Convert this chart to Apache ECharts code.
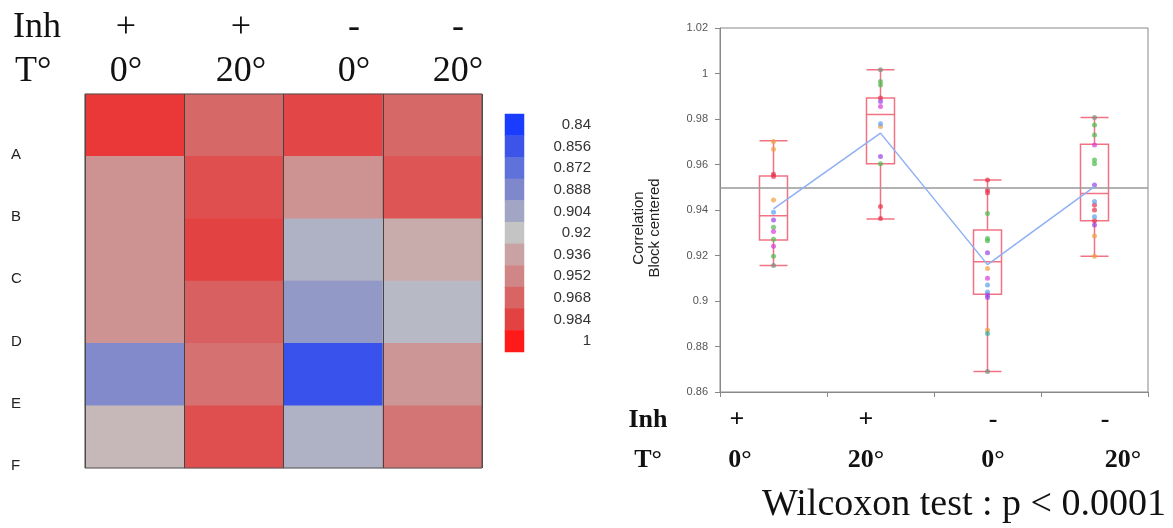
<!DOCTYPE html>
<html><head><meta charset="utf-8">
<script src="https://cdn.jsdelivr.net/npm/echarts@6/dist/echarts.min.js"></script>
<style>html,body{margin:0;padding:0;background:#fff}#c{width:1173px;height:528px}</style>
</head><body><div id="c"></div>
<script>
// ---- data ----
const conditions = ['Inh+ 0°', 'Inh+ 20°', 'Inh- 0°', 'Inh- 20°'];
const inhLabels = ['+', '+', '-', '-'];
const tempLabels = ['0°', '20°', '0°', '20°'];
const rowLabels = ['A', 'B', 'C', 'D', 'E', 'F'];
const heatA = [0.988, 0.966, 0.982, 0.966];
const heatB = [0.945, 0.978, 0.945, 0.975];
const heatC = [0.945, 0.984, 0.910, 0.932];
const heatD = [0.945, 0.970, 0.897, 0.914];
const heatE = [0.889, 0.962, 0.854, 0.943];
const heatF = [0.926, 0.978, 0.910, 0.960];
const scaleTicks = [0.84, 0.856, 0.872, 0.888, 0.904, 0.92, 0.936, 0.952, 0.968, 0.984, 1];
const scaleTickLabels = ['0.84', '0.856', '0.872', '0.888', '0.904', '0.92', '0.936', '0.952', '0.968', '0.984', '1'];
// boxplot: [min, Q1, median, Q3, max]
const boxInhPlus0 = [0.9156, 0.9268, 0.9375, 0.9550, 0.9704];
const boxInhPlus20 = [0.9360, 0.9603, 0.9820, 0.9892, 1.0017];
const boxInhMinus0 = [0.8690, 0.9030, 0.9172, 0.9312, 0.9532];
const boxInhMinus20 = [0.9197, 0.9353, 0.9473, 0.9689, 0.9807];
const meanValues = [0.9405, 0.9738, 0.9160, 0.9503];
const referenceLevel = 0.9454;
const yTicks = { min: 0.86, max: 1.02, step: 0.02 };
// individual points per condition, grouped by colour
const dotsGray    = [[0.9156], [1.0017], [0.8690], [0.9807]];
const dotsGreen   = [[0.9324, 0.9271, 0.9197], [0.9965, 0.9950, 0.9603], [0.9385, 0.9275, 0.9265], [0.9774, 0.9730, 0.9620, 0.9603]];
const dotsOrange  = [[0.9701, 0.9667, 0.9444], [0.9767], [0.9143, 0.8872], [0.9286, 0.9197]];
const dotsRed     = [[0.9557, 0.9547], [0.9892, 0.9415, 0.9363], [0.9532, 0.9488, 0.9476], [0.9422, 0.9400, 0.9353]];
const dotsBlue    = [[0.9390], [0.9779], [0.9070, 0.9040], [0.9437, 0.9370]];
const dotsPurple  = [[0.9356], [0.9877, 0.9635], [0.9212, 0.9026, 0.9015], [0.9510, 0.9334]];
const dotsMagenta = [[0.9305, 0.9241], [0.9855], [0.9100], [0.9686]];
const dotsTeal    = [[], [], [0.8857], []];

// ---- styles ----
const scaleColors = ['#1a3cff', '#3c55e8', '#5f72dc', '#8088cc', '#a2a6c4', '#c4c4c4',
                     '#c9a3a3', '#d08686', '#d86464', '#e34242', '#ff1a1a'];
const dotGroups = [
  [dotsGray, '#7c8c7c'], [dotsGreen, '#4cba4c'], [dotsOrange, '#f0a040'], [dotsRed, '#e8304c'],
  [dotsBlue, '#5aa0f0'], [dotsPurple, '#9a40e8'], [dotsMagenta, '#d83ad8'], [dotsTeal, '#30b0a0']
];

const heatRows = [heatA, heatB, heatC, heatD, heatE, heatF];
const heatData = [];
heatRows.forEach((r, yi) => r.forEach((v, xi) => heatData.push([xi, yi, v])));
const scaleData = scaleTicks.map((v, i) => [0, i, v]);

const serif = '"Liberation Serif", "DejaVu Serif", serif';
const sans = 'Liberation Sans, Arial, sans-serif';

const graphics = [];
function txt(x, y, s, opt) {
  graphics.push({ type: 'text', x: x, y: y, style: Object.assign({ text: s, fill: '#111', align: 'center', verticalAlign: 'middle' }, opt) });
}
// heatmap header
txt(13, 28, 'Inh', { font: '36px ' + serif, align: 'left' });
txt(15, 72, 'T°', { font: '36px ' + serif, align: 'left' });
const headX = [126, 241, 354, 458];
inhLabels.forEach((s, i) => txt(headX[i], 28, s, { font: '36px ' + serif }));
tempLabels.forEach((s, i) => txt(headX[i], 72, s, { font: '36px ' + serif }));
// boxplot footer
txt(648, 420, 'Inh', { font: 'bold 26px ' + serif });
txt(648, 460, 'T°', { font: 'bold 26px ' + serif });
const footX1 = [737, 866, 993, 1105];
const footX2 = [740, 866, 993, 1123];
inhLabels.forEach((s, i) => txt(footX1[i], 420, s, { font: 'bold 26px ' + serif }));
tempLabels.forEach((s, i) => txt(footX2[i], 460, s, { font: 'bold 26px ' + serif }));
txt(1166, 505, 'Wilcoxon test : p < 0.0001', { font: '38px ' + serif, align: 'right' });

const dotSeries = dotGroups.map(([grp, col]) => ({
  type: 'scatter', xAxisIndex: 2, yAxisIndex: 2, symbolSize: 5, z: 4,
  itemStyle: { color: col, opacity: 0.7 },
  data: grp.flatMap((vals, ci) => vals.map(v => [ci, v]))
}));

const option = {
  animation: false,
  backgroundColor: '#fff',
  textStyle: { fontFamily: sans },
  graphic: graphics,
  grid: [
    { left: 85, top: 94, width: 397, height: 374, show: true, z: 10, borderColor: '#555', borderWidth: 1, backgroundColor: 'transparent' },
    { left: 505, top: 114, width: 19, height: 238 },
    { left: 720, top: 28, width: 428, height: 364, show: true, borderColor: '#888', borderWidth: 1 }
  ],
  xAxis: [
    { gridIndex: 0, type: 'category', data: conditions, z: 5,
      axisLine: { show: false }, axisTick: { show: false }, axisLabel: { show: false },
      splitLine: { show: true, lineStyle: { color: '#444', width: 1 } } },
    { gridIndex: 1, type: 'category', data: ['scale'], show: false },
    { gridIndex: 2, type: 'category', data: conditions,
      axisLine: { lineStyle: { color: '#888' } },
      axisTick: { show: true, length: 5, lineStyle: { color: '#888' } },
      axisLabel: { show: false }, splitLine: { show: false } }
  ],
  yAxis: [
    { gridIndex: 0, type: 'category', data: rowLabels, inverse: true,
      axisLine: { show: false }, axisTick: { show: false },
      axisLabel: { align: 'left', margin: 74, verticalAlign: 'top', padding: [22, 0, 0, 0],
        fontSize: 15, color: '#222', fontFamily: sans } },
    { gridIndex: 1, type: 'category', data: scaleTickLabels, inverse: true, position: 'right',
      axisLine: { show: false }, axisTick: { show: false },
      axisLabel: { align: 'right', margin: 67, fontSize: 15, color: '#333', fontFamily: sans } },
    { gridIndex: 2, type: 'value', min: yTicks.min, max: yTicks.max, interval: yTicks.step,
      name: 'Correlation\nBlock centered', nameLocation: 'middle', nameGap: 57,
      nameTextStyle: { fontSize: 15, lineHeight: 16, color: '#222', fontFamily: sans, padding: [0, 36, 0, 0] },
      axisLine: { show: true, lineStyle: { color: '#888' } },
      axisTick: { show: true, length: 5, lineStyle: { color: '#888' } },
      axisLabel: { fontSize: 11, color: '#555', margin: 12,
        formatter: v => String(parseFloat(v.toFixed(3))) },
      splitLine: { show: false } }
  ],
  visualMap: {
    type: 'continuous', show: false, min: scaleTicks[0], max: scaleTicks[scaleTicks.length - 1],
    dimension: 2, seriesIndex: [0, 1], inRange: { color: scaleColors }
  },
  series: [
    { type: 'heatmap', xAxisIndex: 0, yAxisIndex: 0, data: heatData, itemStyle: { borderWidth: 0 } },
    { type: 'heatmap', xAxisIndex: 1, yAxisIndex: 1, data: scaleData, itemStyle: { borderWidth: 0 } },
    { type: 'boxplot', xAxisIndex: 2, yAxisIndex: 2, boxWidth: [28, 28], z: 3,
      itemStyle: { color: 'transparent', borderColor: 'rgba(238,80,100,0.8)', borderWidth: 1.5 },
      data: [boxInhPlus0, boxInhPlus20, boxInhMinus0, boxInhMinus20],
      markLine: { silent: true, symbol: 'none', label: { show: false },
        lineStyle: { color: '#999', width: 1.5, type: 'solid' },
        data: [{ yAxis: referenceLevel }] } },
    { type: 'line', xAxisIndex: 2, yAxisIndex: 2, data: meanValues, symbol: 'none', z: 5,
      lineStyle: { color: '#8fb0f5', width: 1.5 } }
  ].concat(dotSeries)
};
echarts.init(document.getElementById('c'), null, { renderer: 'canvas' }).setOption(option);
</script></body></html>
